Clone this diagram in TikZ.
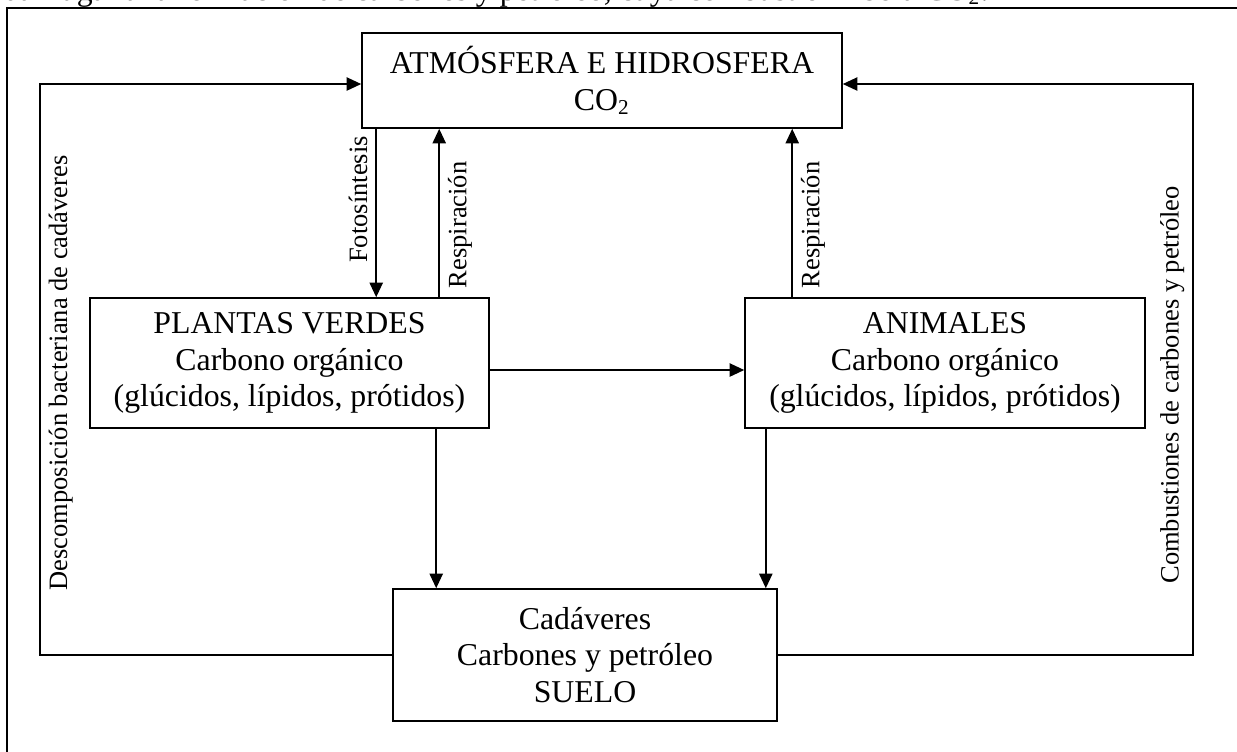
\documentclass[tikz,border=0pt]{standalone}
\usepackage{fontspec}
\setmainfont{Liberation Serif}
\usetikzlibrary{calc,positioning,arrows.meta}

\def\px{0.3774pt}
\tikzset{
  caja/.style={draw, line width=0.6pt, align=center, inner sep=0pt,
    font=\fontsize{12}{13.8}\selectfont},
  flecha/.style={-{Triangle[length=5.5pt,width=5pt]}, line width=0.6pt},
  rotulo/.style={rotate=90, inner sep=3pt, font=\fontsize{10}{12}\selectfont}
}

\begin{document}
\begin{tikzpicture}[x=\px,y=-\px]
  \useasboundingbox (0,0) rectangle (1237,751);
  \clip (0,0) rectangle (1237,751);

  % texto cortado y marco
  \node[anchor=base west, inner sep=0pt, font=\fontsize{12}{13.8}\selectfont] (intro) at (3,0)
    {dar lugar a la formación de carbones y petróleo, cuya combustión libera CO\textsubscript{2}.};
  \draw[line width=0.9pt] (1245,8) -- (7,8) -- (7,760);

  % cajas
  \node[caja, minimum width={480*\px}, minimum height={95*\px}] (atm) at (602,80.5)
    {ATMÓSFERA E HIDROSFERA\\CO\textsubscript{2}};
  \node[caja, minimum width={399*\px}, minimum height={130*\px}] (plantas) at (289.5,363)
    {PLANTAS VERDES\\Carbono orgánico\\(glúcidos, lípidos, prótidos)};
  \node[caja, minimum width={400*\px}, minimum height={130*\px}] (animales) at (945,363)
    {ANIMALES\\Carbono orgánico\\(glúcidos, lípidos, prótidos)};
  \node[caja, minimum width={384*\px}, minimum height={132*\px}] (suelo) at (585,655)
    {Cadáveres\\Carbones y petróleo\\SUELO};

  % puntos de las flechas
  \coordinate (fot) at ($(atm.south west)+(15,0)$);
  \coordinate (resp1) at ($(atm.south west)+(78,0)$);
  \coordinate (resp2) at ($(animales.north west)+(48,0)$);
  \coordinate (bajp) at ($(suelo.north west)+(44,0)$);
  \coordinate (baja) at ($(suelo.north east)+(-12,0)$);
  \coordinate (izq) at (40,84);
  \coordinate (der) at (1193,84);

  % flechas
  \draw[flecha] (fot) -- (fot |- plantas.north) node[pos=0.42, rotulo, above] {Fotosíntesis};
  \draw[flecha] (resp1 |- plantas.north) -- (resp1) node[pos=0.43, rotulo, below] {Respiración};
  \draw[flecha] (resp2) -- (resp2 |- atm.south) node[pos=0.43, rotulo, below] {Respiración};
  \draw[flecha] ($(plantas.east)+(0,7)$) coordinate (pa) -- (pa -| animales.west);
  \draw[flecha] (bajp |- plantas.south) -- (bajp);
  \draw[flecha] (baja |- animales.south) -- (baja);
  \draw[flecha] (suelo.west) -- (suelo.west -| izq) -- (izq)
    node[pos=0.494, rotulo, below] {Descomposición bacteriana de cadáveres} -- (izq -| atm.west);
  \draw[flecha] (suelo.east) -- (suelo.east -| der) -- (der)
    node[pos=0.473, rotulo, above] {Combustiones de carbones y petróleo} -- (der -| atm.east);
\end{tikzpicture}
\end{document}
